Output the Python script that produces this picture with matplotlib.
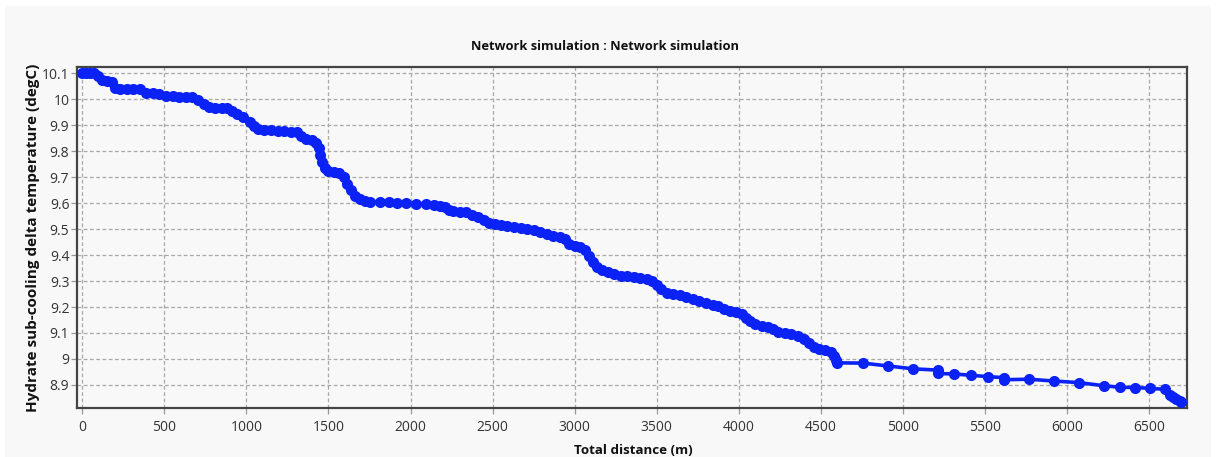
import matplotlib
matplotlib.use("Agg")
import matplotlib.pyplot as plt
from matplotlib.patches import Rectangle

# Distance (m) and hydrate sub-cooling delta temperature (degC)
distance = [
    0, 20, 45, 70, 95, 120, 150, 180, 200, 230, 270, 310, 350, 390, 430, 470,
    510, 550, 590, 630, 670, 705, 740, 770, 810, 850, 880, 910, 945, 980, 1020,
    1045, 1070, 1110, 1150, 1190, 1230, 1270, 1310, 1335, 1360, 1400, 1425,
    1440, 1450, 1462, 1478, 1500, 1535, 1565, 1595, 1615, 1635, 1660, 1690,
    1720, 1750,
    1812, 1869, 1918, 1972, 2033, 2094, 2145,
    2180, 2210, 2235, 2260, 2300, 2340, 2375, 2410, 2445, 2480, 2515, 2550,
    2590, 2630, 2670, 2710, 2750, 2790, 2830, 2870, 2910, 2940, 2965, 3000,
    3035, 3060, 3085, 3110, 3135, 3165, 3200, 3240, 3280, 3320, 3360, 3400,
    3440, 3470, 3500, 3525, 3560, 3600, 3640, 3680, 3720, 3760, 3800, 3840,
    3870, 3910, 3945, 3985, 4020, 4045, 4070, 4100, 4140, 4180, 4210, 4240,
    4280, 4320, 4360, 4395, 4425, 4455, 4490, 4525, 4560, 4580, 4590, 4600,
    4756, 4909, 5061, 5213, 5215, 5313, 5416, 5517, 5615, 5617, 5767, 5918,
    6070, 6222, 6320, 6411, 6502, 6598, 6624, 6645, 6665, 6685, 6696,
]
subcooling = [
    10.100, 10.100, 10.100, 10.099, 10.088, 10.075, 10.070, 10.066, 10.045,
    10.041, 10.040, 10.040, 10.038, 10.024, 10.022, 10.020, 10.013, 10.011,
    10.010, 10.010, 10.007, 9.998, 9.982, 9.971, 9.968, 9.968, 9.966, 9.955,
    9.942, 9.930, 9.914, 9.895, 9.884, 9.881, 9.880, 9.878, 9.876, 9.875,
    9.873, 9.857, 9.845, 9.842, 9.830, 9.812, 9.785, 9.760, 9.735, 9.725,
    9.721, 9.717, 9.700, 9.675, 9.650, 9.628, 9.615, 9.608, 9.606,
    9.605, 9.604, 9.602, 9.600, 9.598, 9.596, 9.593,
    9.590, 9.585, 9.575, 9.568, 9.566, 9.564, 9.555, 9.545, 9.535, 9.525,
    9.518, 9.514, 9.511, 9.508, 9.505, 9.500, 9.496, 9.490, 9.482, 9.474,
    9.468, 9.460, 9.442, 9.435, 9.430, 9.418, 9.398, 9.375, 9.355, 9.342,
    9.335, 9.327, 9.321, 9.318, 9.314, 9.311, 9.307, 9.302, 9.285, 9.268,
    9.254, 9.249, 9.245, 9.240, 9.232, 9.223, 9.216, 9.208, 9.202, 9.192,
    9.183, 9.179, 9.174, 9.158, 9.145, 9.133, 9.127, 9.123, 9.114, 9.102,
    9.098, 9.096, 9.090, 9.078, 9.062, 9.047, 9.038, 9.033, 9.028, 9.010,
    8.995, 8.985,
    8.984, 8.973, 8.962, 8.957, 8.944, 8.942, 8.937, 8.932, 8.928, 8.920,
    8.922, 8.915, 8.909, 8.897, 8.891, 8.890, 8.887, 8.883, 8.863, 8.852,
    8.845, 8.839, 8.836,
]

x_ticks = [0, 500, 1000, 1500, 2000, 2500, 3000, 3500, 4000, 4500, 5000, 5500, 6000, 6500]
y_ticks = [8.9, 9.0, 9.1, 9.2, 9.3, 9.4, 9.5, 9.6, 9.7, 9.8, 9.9, 10.0, 10.1]
y_tick_labels = ["8.9", "9", "9.1", "9.2", "9.3", "9.4", "9.5", "9.6", "9.7", "9.8", "9.9", "10", "10.1"]

title = "Network simulation : Network simulation"
x_label = "Total distance (m)"
y_label = "Hydrate sub-cooling delta temperature (degC)"

plt.rcParams['font.family'] = ['Open Sans', 'DejaVu Sans']

W, H = 1216, 457
fig = plt.figure(figsize=(W / 100, H / 100), dpi=100, facecolor="white")
bg = "#f8f8f8"
fig.patches.append(Rectangle((5 / W, 0), (W - 10) / W, (H - 6) / H,
                             transform=fig.transFigure, facecolor=bg,
                             edgecolor="none", zorder=-10))

ax = fig.add_axes([77 / W, 1 - 408.3 / H, (1187 - 77) / W, (408.3 - 67) / H])
ax.set_facecolor(bg)

ax.plot(distance, subcooling, color="#0a22f5", lw=2.6, marker="o",
        markersize=8.0, markeredgewidth=0, zorder=3, clip_on=False)

ax.set_xlim(-32, 6730)
ax.set_ylim(8.810, 10.124)
ax.set_xticks(x_ticks)
ax.set_yticks(y_ticks)
ax.set_yticklabels(y_tick_labels)

ax.grid(True, color="#a8a8a8", linestyle=(0, (3, 2)), linewidth=0.9)
ax.set_axisbelow(True)

for side, sp in ax.spines.items():
    sp.set_color("#444444")
    sp.set_linewidth(1.6)

ax.tick_params(axis="both", labelsize=10, labelcolor="#333333", length=4.5,
               width=0.9, color="#999999")
ax.tick_params(axis="y", pad=1)
ax.tick_params(axis="x", pad=4)

ax.set_xlabel(x_label, fontsize=9.6, fontweight="bold", color="#111111")
ax.set_ylabel(y_label, fontsize=11, fontweight="bold", color="#111111")
ax.xaxis.set_label_coords((633 - 77) / (1187 - 77), -(450.7 - 408.3) / (408.3 - 67))
ax.yaxis.set_label_coords(-(77 - 33) / (1187 - 77), 0.5)
ax.xaxis.label.set_va("center")
ax.yaxis.label.set_va("center")

fig.text(605 / W, 1 - 47 / H, title, ha="center", va="center",
         fontsize=9.3, fontweight="bold", color="#111111")

fig.savefig("out.png", dpi=100, facecolor="white")
